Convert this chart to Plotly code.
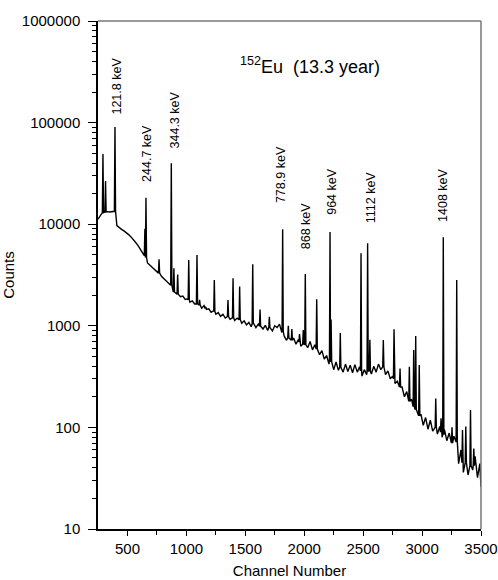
import math
import plotly.graph_objects as go

# Continuum of the 152Eu gamma spectrum, sampled every 20 channels (250 ... 3490, then 3500)
cont_channel = list(range(250, 3500, 20)) + [3500]
cont_counts = [
    11200, 12300, 12800, 13100, 13300, 13200, 13400, 13300, 9700, 9250,
    8900, 8600, 8300, 7900, 7500, 7100, 6600, 6150, 5650, 5150,
    4800, 4150, 3950, 3800, 3620, 3480, 3250, 3050, 2900, 2750,
    2620, 2400, 2120, 2080, 2000, 1930, 1960, 1820, 1840, 1710,
    1760, 1640, 1650, 1560, 1490, 1580, 1450, 1470, 1360, 1400,
    1300, 1350, 1240, 1300, 1190, 1240, 1160, 1240, 1130, 1190,
    1100, 1060, 1120, 1020, 1080, 980, 1060, 960, 1040, 950,
    930, 1010, 900, 990, 890, 1000, 960, 1040, 860, 790,
    720, 800, 680, 760, 660, 730, 630, 690, 640, 610,
    700, 580, 650, 560, 520, 570, 470, 510, 420, 430,
    370, 440, 365, 400, 350, 420, 355, 410, 345, 415,
    350, 395, 320, 370, 330, 380, 335, 400, 350, 420,
    370, 400, 330, 360, 300, 320, 270, 285, 245, 250,
    200, 225, 180, 190, 160, 140, 122, 135, 105, 125,
    96, 118, 92, 112, 86, 102, 80, 95, 74, 88,
    66, 82, 62, 44, 60, 36, 55, 34, 58, 38,
    52, 32, 44,
    26,
]

# Photopeaks: channel, peak counts, local continuum under the peak
peak_channel = [292, 314, 394, 648, 657, 768, 872, 894, 926, 1020,
                1090, 1112, 1163, 1237, 1353, 1396, 1452, 1563, 1625, 1704,
                1817, 1865, 1895, 1960, 1992, 2009, 2106, 2219, 2228, 2306,
                2482, 2538, 2557, 2671, 2762, 2813, 2892, 2929, 2946, 2976,
                3116, 3161, 3180, 3254, 3294, 3343, 3371, 3411, 3439]
peak_counts = [49000, 26600, 90600, 9000, 18200, 4520, 39700, 3680, 3190, 4440,
               4980, 1800, 1520, 2820, 1790, 2930, 2430, 4030, 1450, 1230,
               8900, 1000, 930, 830, 910, 3240, 1820, 8380, 1150, 850,
               5180, 6490, 730, 724, 925, 380, 396, 578, 795, 411,
               193, 123, 7430, 100, 2830, 94, 102, 148, 62]
peak_base = [13000, 13200, 13400, 4900, 4700, 3300, 2500, 2150, 2050, 1800,
             1640, 1600, 1500, 1380, 1230, 1200, 1150, 1040, 990, 960,
             880, 760, 720, 690, 660, 650, 590, 450, 440, 390,
             360, 355, 355, 395, 300, 250, 180, 160, 150, 130,
             100, 90, 85, 70, 72, 45, 45, 42, 42]

# Labelled lines: text, channel, counts at the foot of the label
label_text = ["121.8 keV", "244.7 keV", "344.3 keV", "778.9 keV", "868 keV",
              "964 keV", "1112 keV", "1408 keV"]
label_channel = [403, 670, 903, 1809, 2015, 2236, 2569, 3178]
label_counts = [113500, 24900, 53700, 15500, 5360, 11700, 9820, 9950]

x_ticks = [500, 1000, 1500, 2000, 2500, 3000, 3500]
y_ticks = [10, 100, 1000, 10000, 100000, 1000000]

HALF = 5
pts = []
for c, v in zip(cont_channel, cont_counts):
    if all(abs(c - p) > HALF + 1 for p in peak_channel):
        pts.append((c, v))
for c, top, base in zip(peak_channel, peak_counts, peak_base):
    pts += [(c - HALF, base), (c, top), (c + HALF, base)]
pts.sort(key=lambda t: t[0])

FONT = "Liberation Sans, Arial, sans-serif"

fig = go.Figure()
fig.add_trace(go.Scatter(
    x=[p[0] for p in pts], y=[p[1] for p in pts],
    mode="lines", line=dict(color="black", width=1.4),
    hoverinfo="skip", showlegend=False,
))

# peak labels (annotation y on a log axis is given as log10)
for t, c, v in zip(label_text, label_channel, label_counts):
    fig.add_annotation(x=c, y=math.log10(v), yref="y", xref="x", text=t,
                       textangle=-90, showarrow=False,
                       xanchor="center", yanchor="bottom",
                       font=dict(family=FONT, size=12.5, color="black"))

fig.add_annotation(xref="paper", yref="paper", x=0.366, y=0.913,
                   xanchor="left", yanchor="middle", showarrow=False,
                   text="<sup>152</sup>Eu\u00a0\u00a0(13.3 year)",
                   font=dict(family=FONT, size=18, color="black"))

# grey frame on the top and right sides
fig.add_shape(type="line", xref="paper", yref="paper", x0=0, x1=1, y0=1, y1=1,
              line=dict(color="#777777", width=1.5))
fig.add_shape(type="line", xref="paper", yref="paper", x0=1, x1=1, y0=0, y1=1,
              line=dict(color="#777777", width=1.5))

minor_y = [m * 10 ** e for e in range(1, 6) for m in range(2, 10)]

fig.update_layout(
    width=498, height=580,
    margin=dict(l=98, r=17, t=21, b=51),
    paper_bgcolor="white", plot_bgcolor="white",
    font=dict(family=FONT, size=15, color="black"),
    xaxis=dict(
        range=[250, 3500], tickvals=x_ticks, ticktext=[str(v) for v in x_ticks],
        ticks="outside", ticklen=5, tickwidth=1.2, tickcolor="black",
        showline=True, linecolor="black", linewidth=1.5, showgrid=False,
        zeroline=False, automargin=False,
        minor=dict(tickvals=[750, 1250, 1750, 2250, 2750, 3250], ticks="outside",
                   ticklen=4, tickcolor="black", tickwidth=1.2),
        title=dict(text="Channel Number", font=dict(size=15), standoff=10),
    ),
    yaxis=dict(
        type="log", range=[1, 6], tickvals=y_ticks,
        ticktext=[str(v) for v in y_ticks],
        ticks="outside", ticklen=8, tickwidth=1.2, tickcolor="black",
        showline=True, linecolor="black", linewidth=1.5, showgrid=False,
        zeroline=False, automargin=False, ticklabelstandoff=5,
        minor=dict(tickvals=minor_y, ticks="outside", ticklen=4,
                   tickcolor="black", tickwidth=1.2),
        title=dict(text="Counts", font=dict(size=15), standoff=6),
    ),
)

fig.write_html("out.html")
